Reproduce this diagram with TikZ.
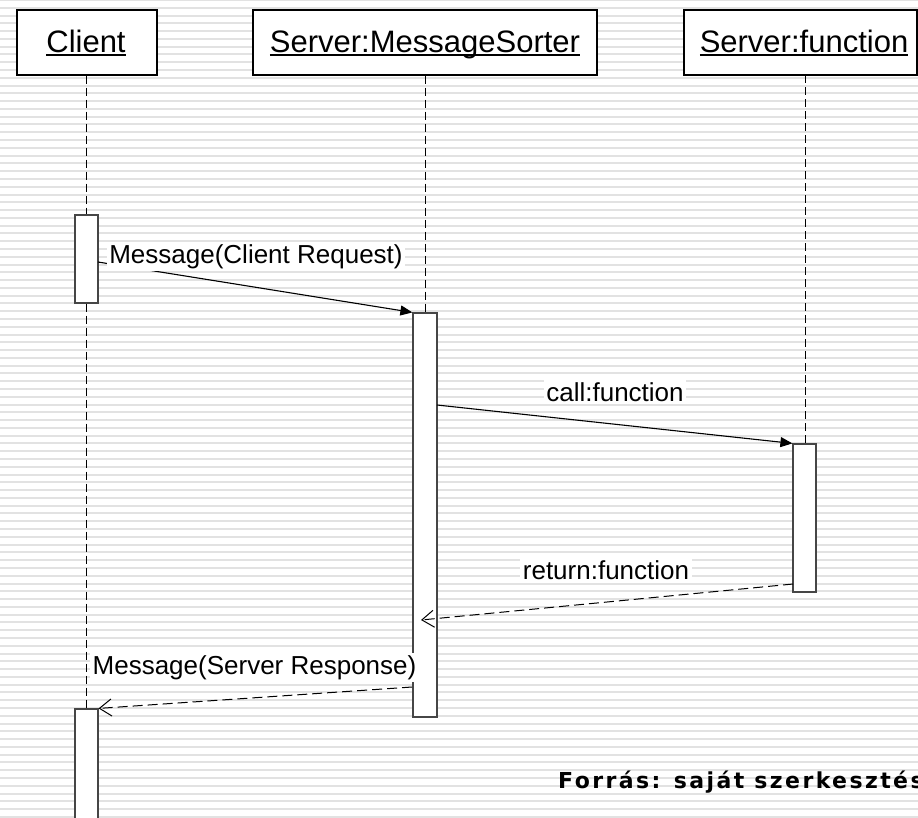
\documentclass[tikz,border=0pt]{standalone}
\usepackage{fontspec}
\setmainfont{Liberation Sans}
\newfontfamily\footfont[LetterSpace=11]{DejaVu Sans}
\usetikzlibrary{arrows.meta}
\definecolor{stripegray}{RGB}{226,226,226}
\definecolor{actborder}{RGB}{70,70,70}
\newcommand\hdrul[1]{\setbox0\hbox{#1}\rlap{\rule[-3.3pt]{\wd0}{1.8pt}}\box0}
\begin{document}
\begin{tikzpicture}[x=1pt,y=-1pt,
  headerbox/.style={draw=black,line width=1.3pt,fill=white,inner sep=0pt,minimum height=65pt},
  headertext/.style={anchor=base,inner sep=0pt,font=\fontsize{31}{37}\selectfont},
  actbox/.style={draw=actborder,line width=1.2pt,fill=white,inner sep=0pt},
  lifeline/.style={draw=black,line width=1pt,dash pattern=on 8pt off 4pt},
  sync/.style={draw=black,line width=1.1pt,-{Triangle[length=12pt,width=10pt]}},
  reply/.style={draw=black,line width=1pt,dash pattern=on 10pt off 5pt,-{Straight Barb[length=12pt,width=17pt,line width=1pt]}},
  msglabel/.style={anchor=base,fill=white,inner sep=2.5pt,font=\fontsize{26}{31}\selectfont},
  stripe/.style={fill=stripegray}]
\useasboundingbox (0,0) rectangle (918,817);
\begin{scope}
\clip (0,0) rectangle (918,817);
\fill[white] (0,0) rectangle (918,817);
\foreach \k in {0,...,105} \fill[stripe] (0,\k*7.78-1) rectangle (918,\k*7.78+1);

% activation boxes
\node[actbox,minimum width=23pt,minimum height=88pt] (act1) at (86.5,259) {};
\node[actbox,minimum width=24pt,minimum height=404pt] (msact) at (425,515) {};
\node[actbox,minimum width=23pt,minimum height=148pt] (fnact) at (804.5,518) {};
\node[actbox,minimum width=23pt,minimum height=121pt] (act2) at (86.5,769.5) {};

% header boxes
\node[headerbox,minimum width=140pt] (client) at (87,42.5) {};
\node[headerbox,minimum width=344pt] (sorter) at (425,42.5) {};
\node[headerbox,minimum width=233pt] (func) at (800.5,42.5) {};
\node[headertext] (clientlbl) at (86,52.5) {\hdrul{Client}};
\node[headertext] (sorterlbl) at (425,52.5) {\hdrul{Server:MessageSorter}};
\node[headertext] (funclbl) at (804,52.5) {\hdrul{Server:function}};

% lifelines
\draw[lifeline] (act1.north |- client.south) -- (act1.north);
\draw[lifeline] (act1.south) -- (act2.north);
\draw[lifeline] (msact.north |- sorter.south) -- (msact.north);
\draw[lifeline] (805,75) coordinate (fnlife) -- (fnlife |- fnact.north);

% messages
\coordinate (m1s) at (98,262);
\draw[sync] (m1s) -- (msact.north west);
\node[msglabel] (m1l) at (256,263) {Message(Client Request)};

\coordinate (m2s) at (437,405);
\draw[sync] (m2s) -- (fnact.north west);
\node[msglabel] (m2l) at (615,401.5) {call:function};

\coordinate (m3s) at (793,584);
\coordinate (m3e) at (421,620);
\draw[reply] (m3s) -- (m3e);
\node[msglabel] (m3l) at (606,579) {return:function};

\coordinate (m4s) at (412,687);
\draw[reply] (m4s) -- (act2.north east);
\node[msglabel] (m4l) at (254.5,674) {Message(Server Response)};

\node[anchor=base west,inner sep=0pt,font=\footfont\bfseries\fontsize{22}{26}\selectfont] (src) at (558,788) {Forrás: saját szerkesztés};
\end{scope}
\end{tikzpicture}
\end{document}
